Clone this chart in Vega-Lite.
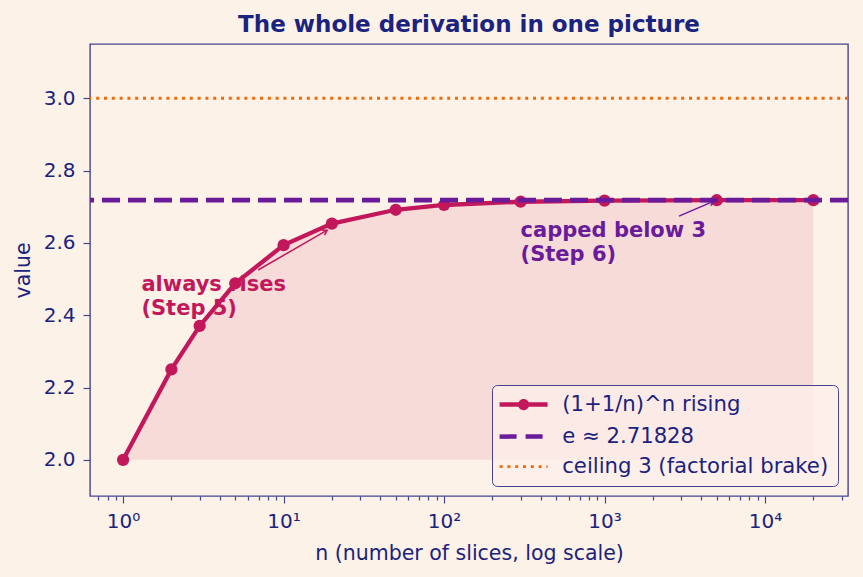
{
  "$schema": "https://vega.github.io/schema/vega-lite/v6.json",
  "width": 758,
  "height": 452,
  "autosize": "none",
  "padding": {"left": 90, "top": 44, "right": 15, "bottom": 81},
  "background": "#fdf2e8",
  "title": {
    "text": "The whole derivation in one picture",
    "font": "DejaVu Sans",
    "fontSize": 23,
    "fontWeight": "bold",
    "color": "#1a237e",
    "anchor": "middle",
    "offset": 7
  },
  "config": {
    "font": "DejaVu Sans",
    "view": {"stroke": "#45458f", "strokeWidth": 1.4, "fill": "#fdf2e8"},
    "axis": {
      "grid": false,
      "domain": false,
      "labelFont": "DejaVu Sans",
      "labelFontSize": 20,
      "labelColor": "#1a237e",
      "tickColor": "#45458f",
      "tickWidth": 1.2,
      "titleFont": "DejaVu Sans",
      "titleFontSize": 20.5,
      "titleFontWeight": "normal",
      "titleColor": "#1a237e"
    }
  },
  "datasets": {
    "curve": [
      {"n": 1, "value": 2.0},
      {"n": 2, "value": 2.25},
      {"n": 3, "value": 2.370370},
      {"n": 5, "value": 2.48832},
      {"n": 10, "value": 2.593742},
      {"n": 20, "value": 2.653298},
      {"n": 50, "value": 2.691588},
      {"n": 100, "value": 2.704814},
      {"n": 300, "value": 2.713765},
      {"n": 1000, "value": 2.716924},
      {"n": 5000, "value": 2.718010},
      {"n": 20000, "value": 2.718214}
    ],
    "notes": [
      {"note": "rises", "label": "always rises\n(Step 5)", "n": 1.3, "value": 2.40, "tail_n": 6.94, "tail_value": 2.525, "tip_n": 18.7, "tip_value": 2.635},
      {"note": "capped", "label": "capped below 3\n(Step 6)", "n": 300, "value": 2.55, "tail_n": 2911, "tail_value": 2.674, "tip_n": 4810, "tip_value": 2.7155}
    ]
  },
  "layer": [
    {
      "data": {"name": "curve"},
      "mark": {"type": "area", "color": "#c2185b", "opacity": 0.1},
      "encoding": {
        "x": {
          "field": "n",
          "type": "quantitative",
          "title": "n (number of slices, log scale)",
          "scale": {"type": "log", "domain": [0.622, 32900], "nice": false},
          "axis": {
            "values": [0.7, 0.8, 0.9, 1, 2, 3, 4, 5, 6, 7, 8, 9, 10, 20, 30, 40, 50, 60, 70, 80, 90, 100, 200, 300, 400, 500, 600, 700, 800, 900, 1000, 2000, 3000, 4000, 5000, 6000, 7000, 8000, 9000, 10000, 20000, 30000],
            "labelExpr": "datum.value == 1 ? '10⁰' : datum.value == 10 ? '10¹' : datum.value == 100 ? '10²' : datum.value == 1000 ? '10³' : datum.value == 10000 ? '10⁴' : ''",
            "tickSize": {"condition": {"test": "indexof([1, 10, 100, 1000, 10000], datum.value) >= 0", "value": 7}, "value": 4},
            "labelOverlap": false,
            "labelFlush": false,
            "labelBound": false,
            "labelPadding": 8,
            "titlePadding": 12
          }
        },
        "y": {
          "field": "value",
          "type": "quantitative",
          "title": "value",
          "scale": {"domain": [1.9, 3.15], "nice": false, "zero": false},
          "axis": {
            "values": [2.0, 2.2, 2.4, 2.6, 2.8, 3.0],
            "format": ".1f",
            "tickSize": 7,
            "labelPadding": 8,
            "titlePadding": 10
          }
        },
        "y2": {"datum": 2}
      }
    },
    {
      "data": {"values": [{}]},
      "mark": {"type": "rule", "strokeWidth": 2.9, "strokeDash": [3, 4.8], "strokeCap": "butt"},
      "encoding": {
        "y": {"datum": 3},
        "color": {"datum": "ceiling 3 (factorial brake)"}
      }
    },
    {
      "data": {"name": "curve"},
      "mark": {"type": "line", "strokeWidth": 4.3},
      "encoding": {
        "x": {"field": "n", "type": "quantitative", "title": "n (number of slices, log scale)"},
        "y": {"field": "value", "type": "quantitative", "title": "value"},
        "color": {
          "datum": "(1+1/n)^n rising",
          "scale": {
            "domain": ["(1+1/n)^n rising", "e ≈ 2.71828", "ceiling 3 (factorial brake)"],
            "range": ["#c2185b", "#6a1b9a", "#ef6c00"]
          },
          "legend": {
            "title": null,
            "orient": "bottom-right",
            "offset": 10,
            "fillColor": "rgba(253,238,232,0.8)",
            "strokeColor": "#45458f",
            "cornerRadius": 5,
            "padding": 9,
            "labelFont": "DejaVu Sans",
            "labelFontSize": 21.2,
            "labelColor": "#1a237e",
            "labelOffset": 40,
            "labelLimit": 400,
            "symbolSize": 576,
            "rowPadding": 8,
            "symbolStrokeWidth": 4.3,
            "encode": {
              "symbols": {
                "update": {
                  "shape": {"signal": "datum.value === '(1+1/n)^n rising' ? 'M-1,0H3M0.72,0A0.28,0.28 0 1,0 1.28,0A0.28,0.28 0 1,0 0.72,0Z' : 'M-1,0H3'"},
                  "fill": {"signal": "datum.value === '(1+1/n)^n rising' ? '#c2185b' : 'transparent'"},
                  "strokeDash": {"signal": "datum.value === 'e ≈ 2.71828' ? [17, 9] : datum.value === 'ceiling 3 (factorial brake)' ? [3, 4.8] : [1, 0]"},
                  "strokeWidth": {"signal": "datum.value === 'ceiling 3 (factorial brake)' ? 2.9 : 4.5"},
                  "opacity": {"value": 1}
                }
              }
            }
          }
        }
      }
    },
    {
      "data": {"name": "curve"},
      "mark": {"type": "point", "filled": true, "size": 150, "color": "#c2185b", "opacity": 1},
      "encoding": {
        "x": {"field": "n", "type": "quantitative", "title": "n (number of slices, log scale)"},
        "y": {"field": "value", "type": "quantitative", "title": "value"}
      }
    },
    {
      "data": {"values": [{}]},
      "mark": {"type": "rule", "strokeWidth": 4.8, "strokeDash": [18, 8], "strokeCap": "butt"},
      "encoding": {
        "y": {"datum": 2.71828},
        "color": {"datum": "e ≈ 2.71828"}
      }
    },
    {
      "data": {"name": "notes"},
      "transform": [{"filter": "datum.note === 'rises'"}],
      "layer": [
        {
          "mark": {"type": "rule", "color": "#c2185b", "strokeWidth": 1.5},
          "encoding": {
            "x": {"field": "tail_n", "type": "quantitative", "title": "n (number of slices, log scale)"},
            "y": {"field": "tail_value", "type": "quantitative", "title": "value"},
            "x2": {"field": "tip_n"},
            "y2": {"field": "tip_value"}
          }
        },
        {
          "mark": {"type": "point", "shape": "M-1,-0.6L0,0L-1,0.6", "filled": false, "size": 90, "strokeWidth": 1.5, "color": "#c2185b", "opacity": 1, "angle": 330},
          "encoding": {
            "x": {"field": "tip_n", "type": "quantitative", "title": "n (number of slices, log scale)"},
            "y": {"field": "tip_value", "type": "quantitative", "title": "value"}
          }
        },
        {
          "mark": {"type": "text", "align": "left", "baseline": "alphabetic", "lineBreak": "\n", "lineHeight": 24, "dy": -24, "font": "DejaVu Sans", "fontSize": 21, "fontWeight": "bold", "color": "#c2185b"},
          "encoding": {
            "x": {"field": "n", "type": "quantitative", "title": "n (number of slices, log scale)"},
            "y": {"field": "value", "type": "quantitative", "title": "value"},
            "text": {"field": "label"}
          }
        }
      ]
    },
    {
      "data": {"name": "notes"},
      "transform": [{"filter": "datum.note === 'capped'"}],
      "layer": [
        {
          "mark": {"type": "rule", "color": "#6a1b9a", "strokeWidth": 1.5},
          "encoding": {
            "x": {"field": "tail_n", "type": "quantitative", "title": "n (number of slices, log scale)"},
            "y": {"field": "tail_value", "type": "quantitative", "title": "value"},
            "x2": {"field": "tip_n"},
            "y2": {"field": "tip_value"}
          }
        },
        {
          "mark": {"type": "point", "shape": "M-1,-0.6L0,0L-1,0.6", "filled": false, "size": 90, "strokeWidth": 1.5, "color": "#6a1b9a", "opacity": 1, "angle": 337},
          "encoding": {
            "x": {"field": "tip_n", "type": "quantitative", "title": "n (number of slices, log scale)"},
            "y": {"field": "tip_value", "type": "quantitative", "title": "value"}
          }
        },
        {
          "mark": {"type": "text", "align": "left", "baseline": "alphabetic", "lineBreak": "\n", "lineHeight": 24, "dy": -24, "font": "DejaVu Sans", "fontSize": 21, "fontWeight": "bold", "color": "#6a1b9a"},
          "encoding": {
            "x": {"field": "n", "type": "quantitative", "title": "n (number of slices, log scale)"},
            "y": {"field": "value", "type": "quantitative", "title": "value"},
            "text": {"field": "label"}
          }
        }
      ]
    }
  ]
}
